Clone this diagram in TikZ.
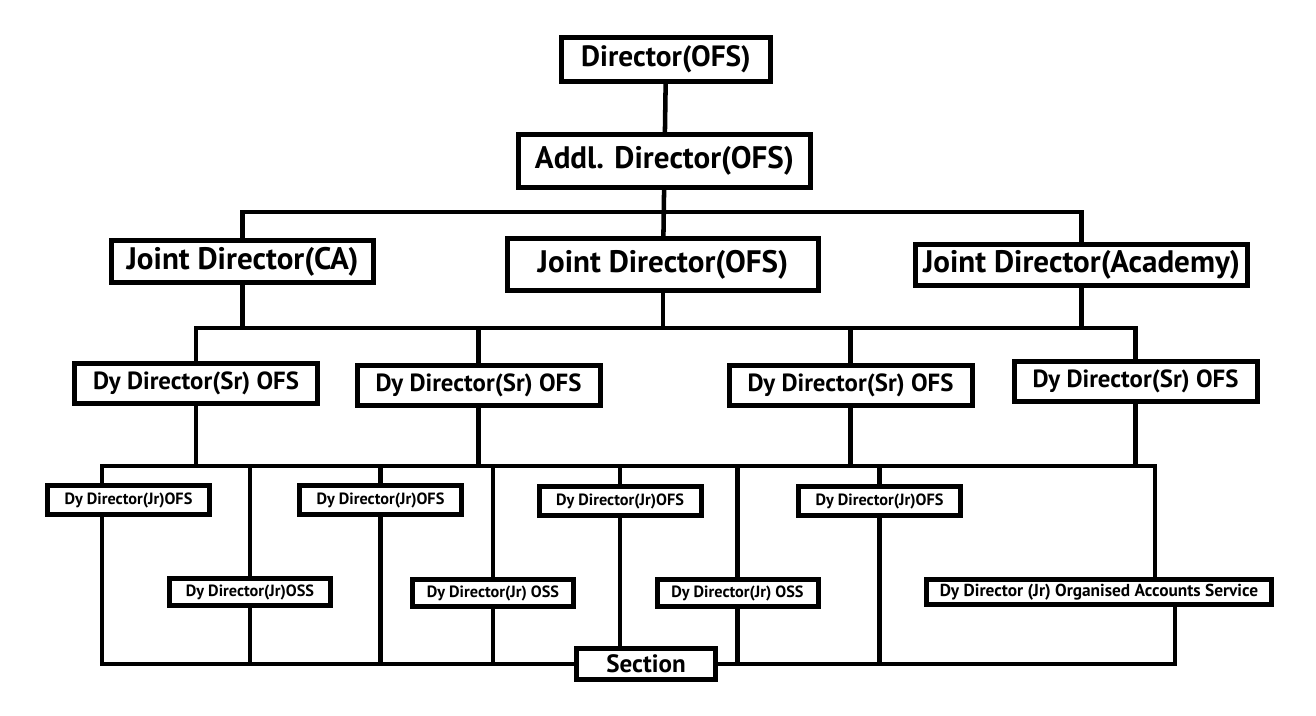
\documentclass[tikz,border=0pt]{standalone}
\usepackage{fontspec}
\setmainfont{PT Sans}
\usepackage{tikz}

\begin{document}
\begin{tikzpicture}[x=0.75pt,y=0.75pt,yscale=-1,xscale=1,
  box/.style={draw, line width=3.75pt, fill=white, inner sep=0pt},
  bigtxt/.style={font=\bfseries\fontsize{23.3}{26}\selectfont},
  srbox/.style={box, minimum width=182.25pt, minimum height=30pt, font=\bfseries\fontsize{18.6}{21}\selectfont},
  jrbox/.style={box, minimum width=121.5pt, minimum height=21.75pt, font=\bfseries\fontsize{12.2}{14}\selectfont},
  ossbox/.style={box, minimum width=120.75pt, minimum height=20.25pt, font=\bfseries\fontsize{12.2}{14}\selectfont},
  link/.style={line width=3.4pt}]

\useasboundingbox (0,0) rectangle (1316,715);

% top of the chart
\node[box, bigtxt, font=\bfseries\fontsize{22}{25}\selectfont, minimum width=156.75pt, minimum height=33pt] (dir) at (666,59.5) {Director(OFS)};
\node[box, bigtxt, minimum width=219pt, minimum height=39.75pt] (addl) at (664.5,161) {Addl. Director(OFS)};

% joint directors
\node[box, bigtxt, minimum width=196.5pt, minimum height=31.5pt] (jdca) at (242.5,261.5) {Joint Director(CA)};
\node[box, bigtxt, minimum width=233.25pt, minimum height=39pt] (jdofs) at (663,264.5) {Joint Director(OFS)};
\node[box, bigtxt, minimum width=249pt, minimum height=30.75pt] (jdac) at (1081.5,265) {Joint Director(Academy)};

% dy directors (sr)
\node[srbox] (sr1) at (196,383.5) {Dy Director(Sr) OFS};
\node[srbox] (sr2) at (478.5,385.5) {Dy Director(Sr) OFS};
\node[srbox] (sr3) at (850.5,385.5) {Dy Director(Sr) OFS};
\node[srbox] (sr4) at (1135.5,381.5) {Dy Director(Sr) OFS};

% dy directors (jr)
\node[jrbox] (dj1) at (128.5,500) {Dy Director(Jr)OFS};
\node[jrbox] (dj2) at (380.5,500) {Dy Director(Jr)OFS};
\node[jrbox] (dj3) at (620,501) {Dy Director(Jr)OFS};
\node[jrbox] (dj4) at (879.5,501) {Dy Director(Jr)OFS};

\node[ossbox] (oss1) at (250,592) {Dy Director(Jr)OSS};
\node[ossbox] (oss2) at (493,593) {Dy Director(Jr) OSS};
\node[ossbox] (oss3) at (737.5,593) {Dy Director(Jr) OSS};
\node[box, minimum width=258.75pt, minimum height=18.75pt, font=\bfseries\fontsize{13}{15}\selectfont] (oas) at (1099,592) {Dy Director (Jr) Organised Accounts Service};

\node[box, minimum width=104.25pt, minimum height=23.25pt, font=\bfseries\fontsize{18.8}{21}\selectfont] (sec) at (646,664) {Section};

% bus levels
\coordinate (b1) at (662,212);
\coordinate (b2) at (662,328);
\coordinate (b3) at (662,466);
\coordinate (b4) at (662,664);
\coordinate (d1) at (102,466);
\coordinate (dO) at (1155,466);
\coordinate (dO2) at (1175,664);

\draw[link] (dir) -- (addl);
\draw[link] (addl) -- (jdofs);
\draw[link] (jdca) -- (jdca |- b1) -- (jdac |- b1) -- (jdac);

\draw[link] (jdca) -- (jdca |- b2);
\draw[link] (jdofs) -- (jdofs |- b2);
\draw[link] (jdac) -- (jdac |- b2);
\draw[link] (sr1) -- (sr1 |- b2) -- (sr4 |- b2) -- (sr4);
\draw[link] (sr2) -- (sr2 |- b2);
\draw[link] (sr3) -- (sr3 |- b2);

\draw[link] (sr1) -- (sr1 |- b3);
\draw[link] (sr2) -- (sr2 |- b3);
\draw[link] (sr3) -- (sr3 |- b3);
\draw[link] (sr4) -- (sr4 |- b3);

\draw[link] (d1 |- dj1.north) -- (d1) -- (dO) -- (dO |- oas.north);
\draw[link] (d1 |- dj1.south) -- (d1 |- b4) -- (sec) -- (dO2) -- (dO2 |- oas.south);

\draw[link] (dj2) -- (dj2 |- b3);
\draw[link] (dj2) -- (dj2 |- b4);
\draw[link] (dj3) -- (dj3 |- b3);
\draw[link] (dj3) -- (dj3 |- sec.north);
\draw[link] (dj4) -- (dj4 |- b3);
\draw[link] (dj4) -- (dj4 |- b4);

\draw[link] (oss1) -- (oss1 |- b3);
\draw[link] (oss1) -- (oss1 |- b4);
\draw[link] (oss2) -- (oss2 |- b3);
\draw[link] (oss2) -- (oss2 |- b4);
\draw[link] (oss3) -- (oss3 |- b3);
\draw[link] (oss3) -- (oss3 |- b4);
\end{tikzpicture}
\end{document}
